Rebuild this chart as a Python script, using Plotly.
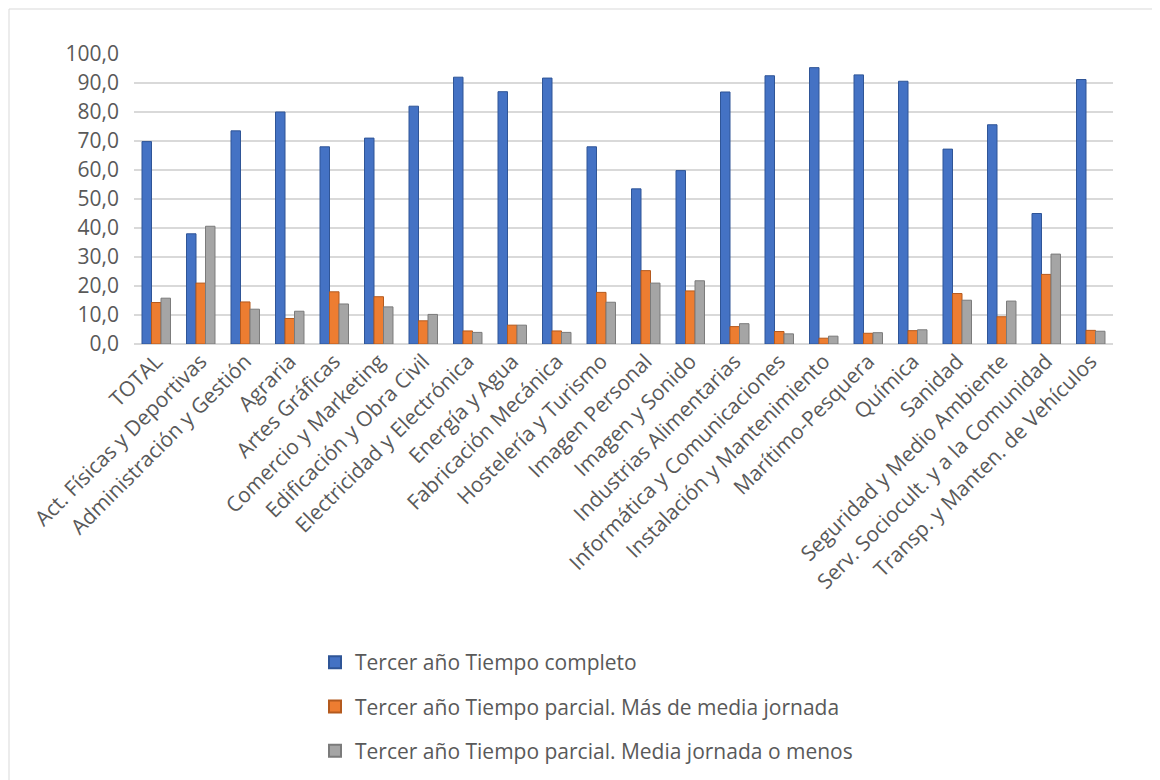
import plotly.graph_objects as go

categories = ["TOTAL", "Act. Físicas y Deportivas", "Administración y Gestión", "Agraria",
              "Artes Gráficas", "Comercio y Marketing", "Edificación y Obra Civil",
              "Electricidad y Electrónica", "Energía y Agua", "Fabricación Mecánica",
              "Hostelería y Turismo", "Imagen Personal", "Imagen y Sonido",
              "Industrias Alimentarias", "Informática y Comunicaciones",
              "Instalación y Mantenimiento", "Marítimo-Pesquera", "Química", "Sanidad",
              "Seguridad y Medio Ambiente", "Serv. Sociocult. y a la Comunidad",
              "Transp. y Manten. de Vehículos"]

completo = [69.8, 38.0, 73.5, 80.0, 68.0, 71.0, 82.0, 92.0, 87.0, 91.7, 68.0, 53.5, 59.8,
            86.9, 92.5, 95.3, 92.8, 90.6, 67.2, 75.6, 45.0, 91.2]
mas_media = [14.3, 21.0, 14.5, 8.8, 18.0, 16.3, 8.0, 4.5, 6.5, 4.5, 17.8, 25.3, 18.3,
             6.0, 4.3, 2.0, 3.7, 4.6, 17.4, 9.4, 24.0, 4.7]
media_menos = [15.8, 40.6, 12.0, 11.3, 13.8, 12.8, 10.2, 4.0, 6.5, 4.0, 14.4, 21.0, 21.8,
               7.0, 3.5, 2.7, 3.9, 4.9, 15.1, 14.8, 31.0, 4.4]

series_names = ["Tercer año Tiempo completo",
                "Tercer año Tiempo parcial. Más de media jornada",
                "Tercer año Tiempo parcial. Media jornada o menos"]
colors = ["#4472C4", "#ED7D31", "#A5A5A5"]
line_colors = ["#2F5597", "#B45A1E", "#7B7B7B"]

fig = go.Figure()
for i, (name, vals) in enumerate(zip(series_names, [completo, mas_media, media_menos])):
    fig.add_trace(go.Bar(
        x=categories, y=vals, name=name,
        marker=dict(color=colors[i], line=dict(color=line_colors[i], width=1)),
        legendgroup=f"g{i}",
    ))

L, R, T, B = 126, 55, 46, 444
PW, PH = 1160 - L - R, 780 - T - B

fig.update_layout(
    width=1160, height=780,
    paper_bgcolor="white", plot_bgcolor="white",
    separators=",.",
    barmode="group", bargap=0.36, bargroupgap=0.0,
    margin=dict(l=L, r=R, t=T, b=B),
    font=dict(family="'Open Sans', sans-serif", color="#595959"),
    showlegend=True,
    legend=dict(
        x=(307 - L) / PW, y=-(634 - T - PH) / PH, xanchor="left", yanchor="top",
        orientation="v", font=dict(size=21, color="#595959"),
        tracegroupgap=14, itemsizing="constant",
    ),
    xaxis=dict(
        tickangle=-45, tickfont=dict(size=21, color="#595959"),
        showgrid=False, showline=False, ticks="",
    ),
    yaxis=dict(
        range=[0, 100], dtick=10, tickformat=".1f",
        tickfont=dict(size=21, color="#595959"),
        showgrid=True, gridcolor="#D9D9D9", gridwidth=1.5,
        zeroline=True, zerolinecolor="#D9D9D9", zerolinewidth=1.5,
        ticks="", ticklabelstandoff=14,
    ),
    shapes=[dict(type="rect", xref="paper", yref="paper",
                 x0=-(L - 1) / PW, x1=1 + (R - 1) / PW, y0=-(B - 1) / PH, y1=1 + (T - 1) / PH,
                 line=dict(color="#D9D9D9", width=1), fillcolor="rgba(0,0,0,0)")],
)

fig.write_html("out.html")
